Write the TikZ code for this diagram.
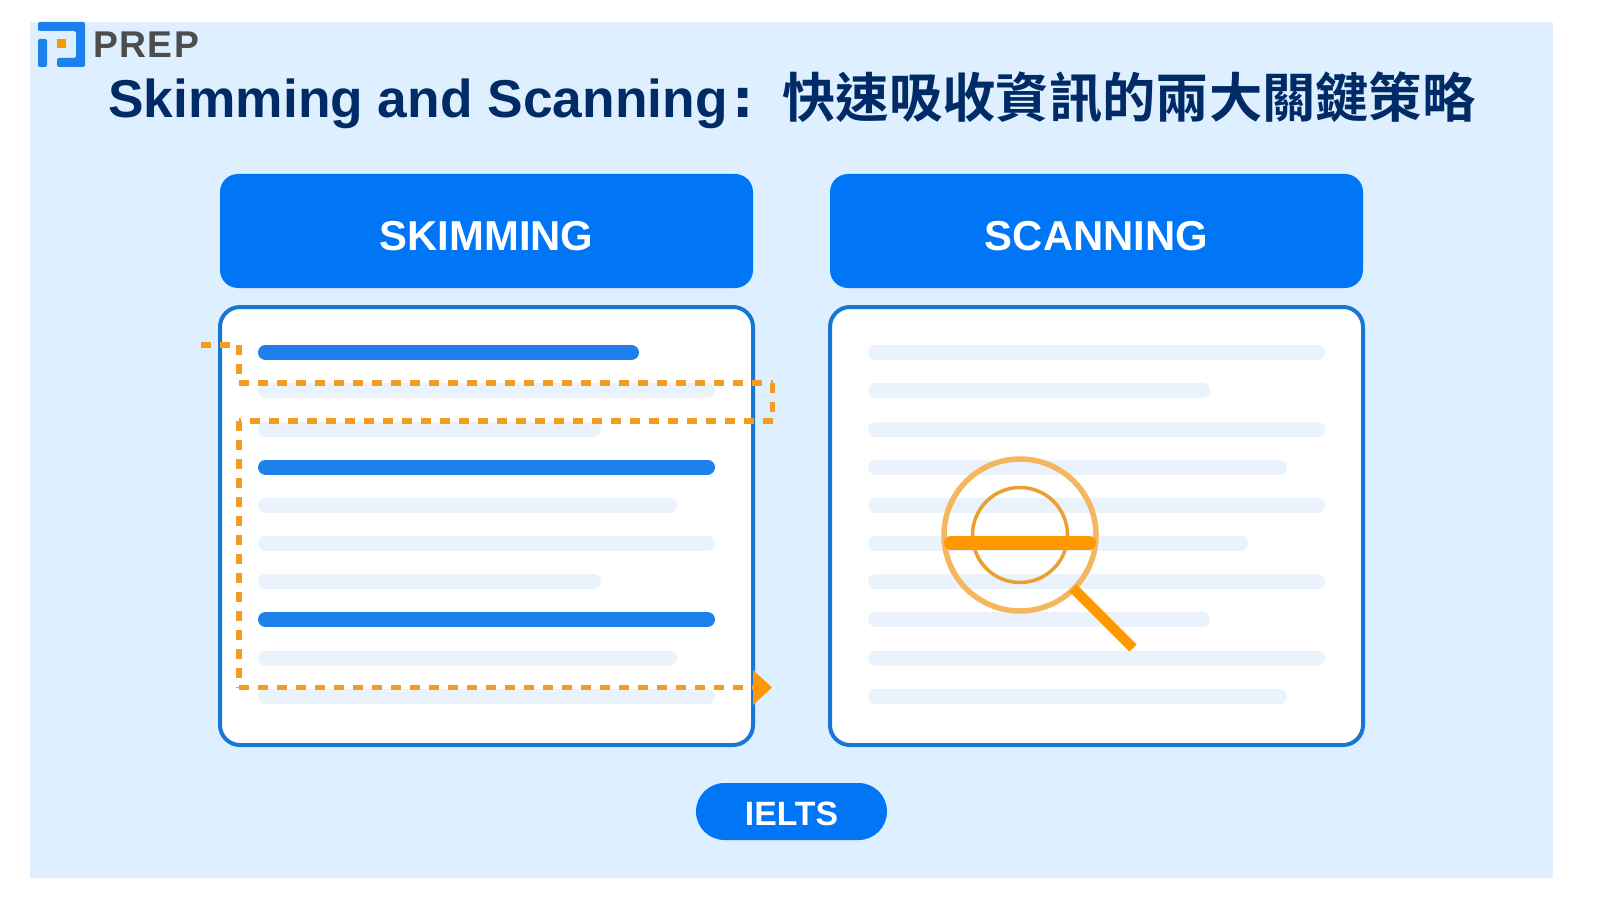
\documentclass[tikz,border=0pt]{standalone}
\usepackage{fontspec}
\setmainfont{Liberation Sans}
\newfontfamily\cjk{Noto Sans CJK TC}[BoldFont={Noto Sans CJK TC Bold}]
\newfontfamily\dejavu{DejaVu Sans}
\definecolor{panelbg}{HTML}{DEEFFF}
\definecolor{headblue}{HTML}{0075F5}
\definecolor{framblue}{HTML}{1976D2}
\definecolor{barblue}{HTML}{1E80EC}
\definecolor{barpale}{HTML}{EAF3FC}
\definecolor{titleblue}{HTML}{002B66}
\definecolor{markorange}{HTML}{FF9800}
\definecolor{dashorange}{HTML}{F39C1F}
\definecolor{lensouter}{HTML}{F4B75F}
\definecolor{lensinner}{HTML}{E9A02F}
\definecolor{prepgrey}{HTML}{4D4D4D}
\tikzset{
	headbox/.style={fill=headblue,rounded corners=.18cm,minimum width=5.33cm,minimum height=1.14cm,text=white,font=\fontsize{11.9}{14}\bfseries,inner sep=0,text height=.388cm,text depth=0},
	pagebox/.style={draw=framblue,fill=white,line width=.04cm,rounded corners=.2cm,minimum width=5.33cm,minimum height=4.38cm},
	darkbar/.style={line width=.15cm,line cap=round,draw=barblue},
	palebar/.style={line width=.15cm,line cap=round,draw=barpale},
	dashrun/.style={line width=.055cm,draw=dashorange,dash pattern=on .095cm off .095cm},
}
\begin{document}
\begin{tikzpicture}
	\useasboundingbox (0,0) rectangle (16,9);
	\fill[panelbg] (.3,.22) rectangle (15.53,8.78);
	% logo
	\fill[barblue,rounded corners=.02cm] (.38,8.78) -- (.85,8.78) -- (.85,8.33) -- (.57,8.33) -- (.57,8.42) -- (.76,8.42) -- (.76,8.69) -- (.38,8.69) -- cycle;
	\fill[barblue,rounded corners=.02cm] (.38,8.61) rectangle (.47,8.33);
	\fill[markorange] (.57,8.61) rectangle (.66,8.52);
	\node[anchor=west,inner sep=0,text=prepgrey,font=\fontsize{10.6}{12}\bfseries\addfontfeature{LetterSpace=4}] (prep) at (.925,8.55) {PREP};
	% title
	\node[inner sep=0,text=titleblue,font=\fontsize{15.17}{18}\bfseries] (title) at (7.92,8.0) {Skimming and Scanning\makebox[1.03em][l]{\kern.1em{\dejavu :}}{\cjk 快速吸收資訊的兩大關鍵策略}};
	% headers
	\node[headbox] (skim) at (4.865,6.69) {SKIMMING};
	\node[headbox] (scan) at (10.965,6.69) {SCANNING};
	% pages
	\node[pagebox] (skimpage) at (4.865,3.74) {};
	\node[pagebox] (scanpage) at (10.965,3.74) {};
	% text bars
	\foreach \y/\e/\s in {5.475/6.39/darkbar,5.095/7.15/palebar,4.71/6.01/palebar,4.33/7.15/darkbar,3.95/6.77/palebar,3.57/7.15/palebar,3.185/6.01/palebar,2.805/7.15/darkbar,2.42/6.77/palebar,2.04/7.15/palebar}
		\draw[\s] (2.655,\y) -- (\e-.075,\y);
	\foreach \y/\e in {5.475/13.25,5.095/12.1,4.71/13.25,4.33/12.87,3.95/13.25,3.57/12.48,3.185/13.25,2.805/12.1,2.42/13.25,2.04/12.87}
		\draw[palebar] (8.755,\y) -- (\e-.075,\y);
	% reading route
	\draw[dashrun] (2.01,5.55) -- (2.39,5.55);
	\draw[dashrun] (2.39,5.55) -- (2.39,5.17);
	\draw[dashrun] (2.39,5.17) -- (7.725,5.17);
	\draw[dashrun] (7.725,5.17) -- (7.725,4.79);
	\draw[dashrun] (7.725,4.79) -- (2.39,4.79);
	\draw[dashrun] (2.39,4.79) -- (2.39,2.125);
	\draw[dashrun] (2.39,2.125) -- (7.53,2.125);
	\fill[markorange] (7.53,2.3) -- (7.72,2.125) -- (7.53,1.95) -- cycle;
	% magnifier
	\draw[lensouter,line width=.055cm] (10.2,3.65) circle (.76);
	\draw[lensinner,line width=.035cm] (10.2,3.65) circle (.475);
	\draw[markorange,line width=.14cm,line cap=round] (9.51,3.57) -- (10.89,3.57);
	\draw[markorange,line width=.1cm] (10.73,3.12) -- (11.33,2.52);
	% badge
	\node[fill=headblue,rounded corners=.285cm,minimum width=1.91cm,minimum height=.57cm,text=white,font=\fontsize{9.6}{11}\bfseries,inner sep=0,text height=.273cm,text depth=0] (ielts) at (7.915,.885) {IELTS};
\end{tikzpicture}
\end{document}
